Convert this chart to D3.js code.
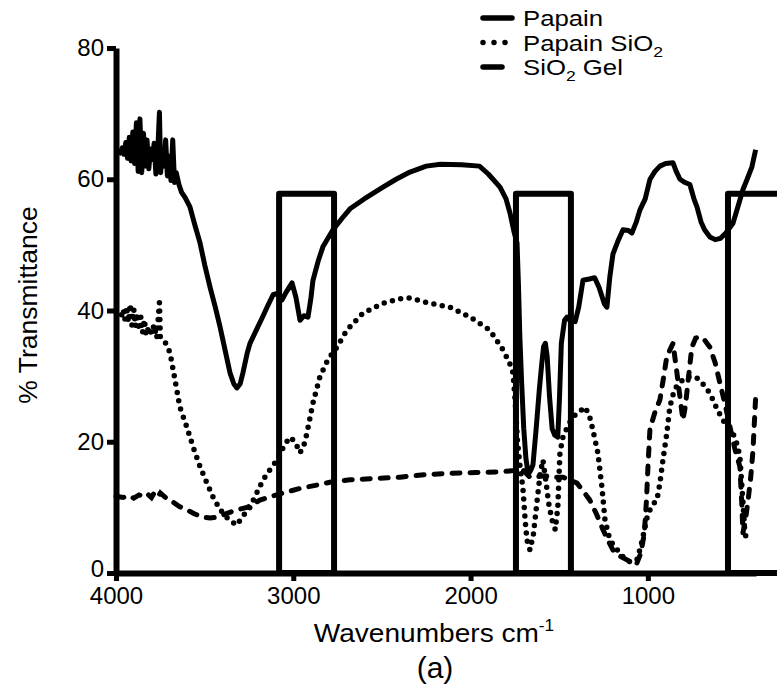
<!DOCTYPE html>
<html lang="en">
<head>
<meta charset="UTF-8">
<title>FTIR Papain</title>
<script src="https://cdn.jsdelivr.net/npm/d3@7"></script>
<style>
    body { margin: 0; background: #fff; }
    svg text { font-family: "Liberation Sans", Arial, Helvetica, sans-serif; fill: #000; }
</style>
</head>
<body>
<svg id="chart" width="777" height="694"></svg>
<script>
// tick values
var xTicks = [4000, 3000, 2000, 1000]
var yTicks = [0, 20, 40, 60, 80]

// highlighted bands [from, to] in cm-1, all up to the same height
var boxes = [[3080, 2770], [1744, 1434], [548, 250]]
var boxTop = 57.8

// [wavenumber, % transmittance]
var papain = [
    [4000, 64.5], [3990, 64.3], [3975, 64.0], [3965, 64.8], [3955, 63.8], [3945, 65.6], [3935, 63.2],
    [3925, 66.4], [3915, 62.8], [3905, 67.2], [3895, 62.4], [3885, 68.6], [3875, 61.2], [3865, 69.2],
    [3855, 61.0], [3845, 67.0], [3835, 62.0], [3825, 66.0], [3815, 61.6], [3805, 64.6], [3795, 63.0],
    [3785, 65.5], [3775, 60.8], [3765, 64.0], [3755, 70.2], [3748, 61.0], [3740, 64.5], [3730, 62.0],
    [3720, 66.0], [3710, 60.5], [3700, 63.5], [3690, 59.8], [3680, 66.0], [3670, 59.5], [3660, 61.0],
    [3645, 59.2], [3630, 58.0], [3610, 57.2], [3583, 55.8], [3555, 53.0], [3526, 50.3], [3500, 47.0],
    [3470, 43.6], [3440, 40.5], [3413, 37.5], [3385, 34.0], [3357, 30.5], [3335, 28.8], [3318, 28.2],
    [3300, 28.8], [3284, 30.5], [3260, 33.5], [3244, 35.0], [3200, 37.5], [3170, 39.2], [3148, 40.5],
    [3114, 42.4], [3090, 42.6], [3064, 41.6], [3040, 42.8], [3007, 44.2], [2985, 42.0], [2962, 38.5],
    [2940, 39.2], [2917, 39.0], [2900, 42.0], [2889, 44.6], [2860, 47.5], [2833, 49.7], [2776, 52.3],
    [2720, 54.2], [2680, 55.5], [2600, 57.0], [2494, 58.8], [2420, 60.0], [2342, 61.1], [2250, 62.0],
    [2170, 62.3], [2050, 62.2], [1950, 62.0], [1900, 60.8], [1834, 58.8], [1800, 57.0], [1778, 54.9],
    [1755, 52.0], [1738, 50.3], [1730, 44.0], [1722, 36.0], [1712, 29.0], [1700, 22.0], [1688, 17.5],
    [1675, 15.0], [1660, 15.7], [1648, 16.5], [1630, 22.0], [1612, 28.0], [1598, 32.0], [1588, 34.5],
    [1578, 35.0], [1568, 33.0], [1555, 27.0], [1540, 22.0], [1525, 21.0], [1508, 20.7], [1498, 27.0],
    [1488, 35.0], [1470, 38.5], [1456, 39.0], [1440, 38.5], [1410, 38.3], [1390, 40.5], [1366, 44.6],
    [1330, 44.8], [1300, 45.0], [1275, 43.5], [1245, 41.0], [1231, 40.5], [1215, 45.0], [1197, 48.6],
    [1170, 50.5], [1140, 52.3], [1110, 52.2], [1090, 51.8], [1065, 53.5], [1045, 55.3], [1015, 57.0],
    [988, 60.0], [960, 61.2], [932, 62.0], [900, 62.4], [858, 62.5], [840, 61.2], [819, 60.0],
    [790, 59.5], [763, 59.2], [740, 57.0], [723, 55.8], [700, 53.5], [680, 52.3], [650, 51.2],
    [620, 50.8], [590, 51.0], [560, 51.8], [520, 53.3], [490, 56.0], [464, 58.4], [440, 60.0],
    [413, 61.9], [392, 64.5]
]

var papainSiO2 = [
    [4000, 40.0], [3985, 39.6], [3970, 39.2], [3960, 40.2], [3950, 38.6], [3940, 40.6], [3930, 38.2],
    [3920, 41.0], [3910, 37.8], [3900, 40.2], [3890, 37.6], [3880, 39.6], [3870, 37.0], [3860, 39.0],
    [3850, 36.6], [3840, 38.6], [3830, 36.2], [3815, 37.5], [3800, 36.5], [3785, 37.8], [3770, 35.8],
    [3755, 41.2], [3750, 36.0], [3730, 35.5], [3710, 34.5], [3695, 33.5], [3667, 29.4], [3640, 25.3],
    [3600, 22.2], [3565, 19.2], [3526, 16.2], [3487, 13.7], [3453, 11.6], [3420, 10.0], [3397, 9.1],
    [3360, 8.0], [3318, 7.3], [3290, 8.5], [3244, 10.0], [3210, 12.0], [3170, 14.2], [3130, 15.8],
    [3092, 17.2], [3050, 19.5], [3019, 20.7], [2990, 20.0], [2962, 18.3], [2940, 19.5], [2923, 21.3],
    [2889, 25.9], [2850, 29.9], [2805, 32.5], [2754, 34.4], [2698, 37.0], [2607, 39.6], [2494, 41.1],
    [2400, 41.8], [2342, 41.9], [2229, 41.1], [2116, 40.5], [2003, 39.0], [1891, 37.0], [1817, 34.0],
    [1780, 32.0], [1761, 30.5], [1750, 26.8], [1735, 20.0], [1720, 16.0], [1705, 13.0], [1692, 8.0],
    [1682, 5.0], [1665, 3.5], [1645, 6.0], [1626, 10.7], [1608, 15.0], [1592, 17.2], [1575, 14.0],
    [1560, 10.7], [1541, 8.1], [1522, 6.6], [1508, 10.0], [1496, 18.3], [1479, 20.7], [1450, 22.5],
    [1422, 23.8], [1390, 24.5], [1355, 25.3], [1330, 24.0], [1310, 21.8], [1282, 18.3], [1259, 13.1],
    [1242, 8.1], [1214, 5.0], [1185, 4.0], [1158, 3.0], [1130, 2.2], [1101, 1.7], [1075, 1.8],
    [1062, 2.0], [1040, 4.0], [1020, 6.5], [1000, 9.0], [970, 10.5], [949, 11.1], [932, 13.7],
    [915, 17.2], [893, 21.3], [876, 25.3], [850, 28.0], [819, 29.0], [790, 29.8], [763, 29.9],
    [730, 29.8], [706, 29.4], [650, 27.4], [610, 25.0], [577, 23.3], [520, 21.3], [495, 19.5],
    [481, 17.7], [464, 11.1], [453, 6.1], [440, 5.0]
]

var sio2Gel = [
    [4000, 11.7], [3960, 11.5], [3930, 11.8], [3900, 11.4], [3870, 11.9], [3840, 11.6], [3820, 12.0],
    [3800, 11.5], [3780, 12.4], [3760, 11.8], [3750, 12.2], [3720, 11.5], [3679, 10.8], [3640, 10.1],
    [3600, 9.6], [3555, 9.0], [3510, 8.5], [3470, 8.4], [3430, 8.5], [3374, 9.1], [3320, 9.6],
    [3261, 10.0], [3188, 11.1], [3120, 11.7], [3058, 12.2], [2960, 12.9], [2867, 13.4], [2780, 13.9],
    [2680, 14.2], [2540, 14.4], [2398, 14.6], [2250, 15.0], [2116, 15.2], [1970, 15.3], [1834, 15.4],
    [1760, 15.6], [1705, 15.7], [1665, 14.6], [1580, 14.8], [1520, 14.6], [1479, 14.6], [1440, 14.2],
    [1400, 13.7], [1365, 12.5], [1327, 11.1], [1290, 9.0], [1253, 6.6], [1225, 5.0], [1197, 3.5],
    [1160, 2.6], [1118, 2.0], [1090, 1.6], [1062, 1.5], [1040, 3.0], [1020, 6.0], [1008, 11.0],
    [998, 17.0], [988, 22.0], [960, 24.5], [932, 26.4], [910, 30.0], [893, 33.0], [858, 35.0],
    [836, 30.5], [815, 26.0], [802, 23.3], [788, 25.5], [774, 29.0], [752, 34.4], [730, 35.8],
    [706, 36.0], [680, 35.5], [650, 34.4], [620, 32.0], [594, 29.0], [565, 25.8], [537, 22.3],
    [510, 19.0], [481, 16.2], [470, 10.5], [464, 6.1], [450, 8.0], [435, 11.0], [420, 14.5],
    [407, 18.7], [392, 26.8]
]

var svg = d3.select('#chart')

var x = d3.scaleLinear().domain([4000, 390]).range([116, 756])
var y = d3.scaleLinear().domain([0, 80]).range([573, 48])

// boxes go under the curves
svg.append('g').selectAll('rect')
    .data(boxes)
    .enter().append('rect')
    .attr('x', function (d) { return x(d[0]) })
    .attr('y', y(boxTop))
    .attr('width', function (d) { return x(d[1]) - x(d[0]) })
    .attr('height', y(0) - y(boxTop))
    .attr('fill', 'none')
    .attr('stroke', '#000')
    .attr('stroke-width', 6)
    .attr('stroke-linejoin', 'round')

var line = d3.line()
    .x(function (d) { return x(d[0]) })
    .y(function (d) { return y(d[1]) })

svg.append('path').datum(sio2Gel)
    .attr('d', line)
    .attr('fill', 'none')
    .attr('stroke', '#000')
    .attr('stroke-width', 5)
    .attr('stroke-dasharray', '8 10')
    .attr('stroke-linecap', 'round')

svg.append('path').datum(papainSiO2)
    .attr('d', line)
    .attr('fill', 'none')
    .attr('stroke', '#000')
    .attr('stroke-width', 5.5)
    .attr('stroke-dasharray', '0 8.5')
    .attr('stroke-linecap', 'round')

svg.append('path').datum(papain)
    .attr('d', line)
    .attr('fill', 'none')
    .attr('stroke', '#000')
    .attr('stroke-width', 5)
    .attr('stroke-linejoin', 'round')

// axes
svg.append('g')
    .attr('transform', 'translate(0,' + y(0) + ')')
    .call(d3.axisBottom(x).tickValues(xTicks).tickFormat(d3.format('d'))
        .tickSize(8).tickSizeOuter(0).tickPadding(6))
var yAxis = svg.append('g')
    .attr('transform', 'translate(' + x(4000) + ',0)')
    .call(d3.axisLeft(y).tickValues(yTicks).tickSize(9).tickSizeOuter(0).tickPadding(3))

svg.selectAll('.domain').attr('stroke', '#000').attr('stroke-width', 6)
svg.selectAll('.tick line').attr('stroke', '#000').attr('stroke-width', 5)
svg.selectAll('.tick text')
    .attr('font-family', 'Liberation Sans, Arial, sans-serif')
    .attr('font-size', 24)
    .attr('fill', '#000')
// lift the "0" a little so it clears the "4000" below it
yAxis.selectAll('.tick text').filter(function (d) { return d === 0 }).attr('y', -4.5)

// axis titles
var xt = svg.append('text')
    .attr('transform', 'translate(434,642) scale(1.08,1)')
    .attr('text-anchor', 'middle')
    .attr('font-size', 26)
xt.append('tspan').text('Wavenumbers cm')
xt.append('tspan').attr('dy', -11).attr('font-size', 16).text('-1')

svg.append('text')
    .attr('x', 435).attr('y', 678)
    .attr('text-anchor', 'middle')
    .attr('font-size', 30)
    .text('(a)')

svg.append('text')
    .attr('transform', 'translate(37,305) rotate(-90)')
    .attr('text-anchor', 'middle')
    .attr('font-size', 26.5)
    .text('% Transmittance')

// legend
var legend = svg.append('g')
var rows = [
    {name: 'Papain', sub: null, rest: '', dash: null, x2: 512},
    {name: 'Papain SiO', sub: '2', rest: '', dash: '0 11', x2: 508},
    {name: 'SiO', sub: '2', rest: ' Gel', dash: null, x2: 502}
]
rows.forEach(function (r, i) {
    var cy = 18 + i * 24.5
    legend.append('line')
        .attr('x1', 483).attr('x2', r.x2)
        .attr('y1', cy).attr('y2', cy)
        .attr('stroke', '#000')
        .attr('stroke-width', 5.5)
        .attr('stroke-linecap', 'round')
        .attr('stroke-dasharray', r.dash)
    var t = legend.append('text')
        .attr('transform', 'translate(523,' + (cy + 8) + ') scale(1.17,1)')
        .attr('font-size', 22)
    t.append('tspan').text(r.name)
    if (r.sub) {
        t.append('tspan').attr('dy', 6).attr('font-size', 15).text(r.sub)
        t.append('tspan').attr('dy', -6).text(r.rest)
    }
})
</script>
</body>
</html>
